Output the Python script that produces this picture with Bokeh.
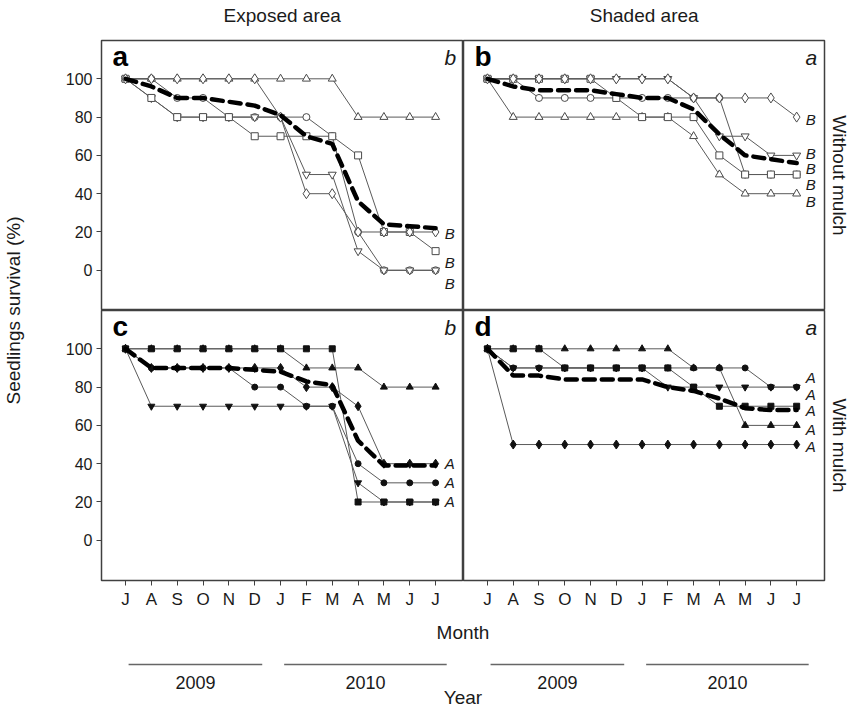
import math
from bokeh.plotting import figure
from bokeh.models import Range1d, FixedTicker, Label
from bokeh.layouts import row, column
from bokeh.embed import file_html
from bokeh.resources import INLINE

FONT = "Liberation Sans"

# ---------------- data ----------------
month_labels = ["J", "A", "S", "O", "N", "D", "J", "F", "M", "A", "M", "J", "J"]
months = list(range(13))

# (a) exposed area, without mulch (open markers)
a_circle   = [100, 100, 90, 90, 80, 80, 80, 80, 70, 20, 0, 0, 0]
a_down     = [100, 90, 80, 80, 80, 80, 80, 50, 50, 10, 0, 0, 0]
a_square   = [100, 90, 80, 80, 80, 70, 70, 70, 70, 60, 20, 20, 10]
a_diamond  = [100, 100, 100, 100, 100, 100, 80, 40, 40, 20, 20, 20, 20]
a_triangle = [100, 100, 100, 100, 100, 100, 100, 100, 100, 80, 80, 80, 80]
a_mean     = [100, 96, 90, 90, 88, 86, 81, 70, 66, 36, 24, 23, 22]

# (b) shaded area, without mulch (open markers)
b_circle   = [100, 100, 90, 90, 90, 90, 90, 90, 90, 90, 50, 50, 50]
b_down     = [100, 100, 100, 100, 100, 100, 100, 100, 90, 70, 70, 60, 60]
b_square   = [100, 100, 100, 100, 100, 90, 80, 80, 80, 60, 50, 50, 50]
b_diamond  = [100, 100, 100, 100, 100, 100, 100, 100, 90, 90, 90, 90, 80]
b_triangle = [100, 80, 80, 80, 80, 80, 80, 80, 70, 50, 40, 40, 40]
b_mean     = [100, 96, 94, 94, 94, 92, 90, 90, 84, 71, 60, 58, 56]

# (c) exposed area, with mulch (filled markers)
c_circle   = [100, 90, 90, 90, 90, 80, 80, 70, 70, 40, 30, 30, 30]
c_down     = [100, 70, 70, 70, 70, 70, 70, 70, 70, 30, 20, 20, 20]
c_square   = [100, 100, 100, 100, 100, 100, 100, 100, 100, 20, 20, 20, 20]
c_diamond  = [100, 90, 90, 90, 90, 90, 90, 80, 80, 70, 40, 40, 40]
c_triangle = [100, 100, 100, 100, 100, 100, 100, 90, 90, 90, 80, 80, 80]
c_mean     = [100, 90, 90, 90, 90, 89, 88, 83, 81, 52, 39, 39, 39]

# (d) shaded area, with mulch (filled markers)
d_circle   = [100, 90, 90, 90, 90, 90, 90, 90, 90, 90, 90, 80, 80]
d_down     = [100, 90, 90, 90, 90, 90, 90, 80, 80, 80, 80, 80, 80]
d_square   = [100, 100, 100, 90, 90, 90, 90, 90, 80, 70, 70, 70, 70]
d_diamond  = [100, 50, 50, 50, 50, 50, 50, 50, 50, 50, 50, 50, 50]
d_triangle = [100, 100, 100, 100, 100, 100, 100, 100, 90, 90, 60, 60, 60]
d_mean     = [100, 86, 86, 84, 84, 84, 84, 80, 78, 74, 69, 68, 68]

# significance letters at line ends
a_sig_y = [19, 4, -7];            a_sig = ["B", "B", "B"]
b_sig_y = [79, 61, 53, 45, 36];   b_sig = ["B", "B", "B", "B", "B"]
c_sig_y = [40, 30, 20];           c_sig = ["A", "A", "A"]
d_sig_y = [85, 76, 68, 58, 49];   d_sig = ["A", "A", "A", "A", "A"]

y_ticks = [0, 20, 40, 60, 80, 100]
columns_titles = ["Exposed area", "Shaded area"]
rows_titles = ["Without mulch", "With mulch"]
years = ["2009", "2010"]
year_start = [0.12, 6.15]
year_end = [5.3, 12.45]

# ---------------- style / layout ----------------
X_RANGE = (-0.93, 13.08)
Y_RANGE = (-21, 120)
LINE_COL = "#5a5a5a"
EDGE_COL = "#404040"
TXT_COL = "#1a1a1a"
PX_PER_MONTH = 25.8          # pixel width of one month inside a panel
COL_OFFSET = 14.03           # shift (in months) of the second column of panels
W_L, W_R, H_T, H_B = 30, 23, 38, 96
W_A, W_B = 433, 363          # canvas widths of the left / right panels


def strip(width, height, x_range, y_range):
    f = figure(width=width, height=height, x_range=x_range, y_range=y_range,
               output_backend="svg", toolbar_location=None,
               x_axis_location=None, y_axis_location=None,
               min_border=0, outline_line_color=None)
    f.grid.visible = False
    return f


def make_panel(series, mean, filled, letter, group, sig_y, sig, width, height,
               mb_left, mb_right, mb_top, mb_bottom, show_x, show_y):
    p = figure(width=width, height=height,
               x_range=Range1d(*X_RANGE), y_range=Range1d(*Y_RANGE),
               output_backend="svg", toolbar_location=None,
               x_axis_location="below" if show_x else None,
               y_axis_location="left" if show_y else None,
               min_border_left=mb_left, min_border_right=mb_right,
               min_border_top=mb_top, min_border_bottom=mb_bottom)
    p.grid.visible = False
    p.outline_line_color = EDGE_COL
    p.outline_line_width = 1.5
    if show_y:
        ax = p.yaxis[0]
        ax.ticker = FixedTicker(ticks=y_ticks)
        ax.major_tick_in = 0
        ax.major_tick_out = 5
        ax.minor_tick_line_color = None
        ax.axis_line_color = EDGE_COL
        ax.major_tick_line_color = EDGE_COL
        ax.major_label_text_font = FONT
        ax.major_label_text_font_size = "16px"
        ax.major_label_text_color = TXT_COL
        ax.major_label_standoff = 4
    if show_x:
        ax = p.xaxis[0]
        ax.ticker = FixedTicker(ticks=months)
        ax.major_label_overrides = {m: lab for m, lab in zip(months, month_labels)}
        ax.major_tick_in = 0
        ax.major_tick_out = 5
        ax.minor_tick_line_color = None
        ax.axis_line_color = EDGE_COL
        ax.major_tick_line_color = EDGE_COL
        ax.major_label_text_font = FONT
        ax.major_label_text_font_size = "17px"
        ax.major_label_text_color = TXT_COL
        ax.major_label_standoff = 4

    # drawing order (bottom -> top): circle, down, triangle, square, diamond
    order = [(series[0], "circle", 7), (series[1], "inverted_triangle", 8),
             (series[4], "triangle", 8), (series[2], "square", 7),
             (series[3], "diamond", 10)]
    for vals, mk, sz in order:
        p.line(months, vals, line_color=LINE_COL, line_width=1)
    for vals, mk, sz in order:
        if filled:
            p.scatter(months, vals, marker=mk, size=sz - 1,
                      fill_color="#111111", line_color="#111111", line_width=1)
        else:
            p.scatter(months, vals, marker=mk, size=sz,
                      fill_color="white", line_color="#4a4a4a", line_width=1)
    p.line(months, mean, line_color="black", line_width=4.5,
           line_dash="11 7", line_cap="round")

    p.add_layout(Label(x=-0.5, y=119.5, text=letter, text_font=FONT,
                       text_font_size="28px", text_font_style="bold",
                       text_color="black", text_align="left", text_baseline="top"))
    p.add_layout(Label(x=12.8, y=117, text=group, text_font=FONT,
                       text_font_size="21px", text_font_style="italic",
                       text_color=TXT_COL, text_align="right", text_baseline="top"))
    for yv, s in zip(sig_y, sig):
        p.add_layout(Label(x=12.35, y=yv, text=s, text_font=FONT,
                           text_font_size="15px", text_font_style="italic",
                           text_color=TXT_COL, text_align="left",
                           text_baseline="middle"))
    return p


pa = make_panel([a_circle, a_down, a_square, a_diamond, a_triangle], a_mean, False,
                "a", "b", a_sig_y, a_sig, W_A, 272, 71, 0, 2, 0, False, True)
pb = make_panel([b_circle, b_down, b_square, b_diamond, b_triangle], b_mean, False,
                "b", "a", b_sig_y, b_sig, W_B, 272, 0, 2, 2, 0, False, False)
pc = make_panel([c_circle, c_down, c_square, c_diamond, c_triangle], c_mean, True,
                "c", "b", c_sig_y, c_sig, W_A, 301, 71, 0, 0, 30, True, True)
pd = make_panel([d_circle, d_down, d_square, d_diamond, d_triangle], d_mean, True,
                "d", "a", d_sig_y, d_sig, W_B, 301, 0, 2, 0, 30, True, False)

# strips share the panels' month scale (left edge of the strips = canvas x W_L)
sx0 = X_RANGE[0] - 71 / PX_PER_MONTH
mid = (X_RANGE[0] + X_RANGE[1]) / 2

top = strip(W_A + W_B, H_T, Range1d(sx0, sx0 + (W_A + W_B) / PX_PER_MONTH), Range1d(H_T, 0))
for k, t in enumerate(columns_titles):
    top.add_layout(Label(x=mid + k * COL_OFFSET, y=15, text=t, text_font=FONT,
                         text_font_size="19px", text_color=TXT_COL,
                         text_align="center", text_baseline="middle"))

bottom = strip(W_A + W_B, H_B, Range1d(sx0, sx0 + (W_A + W_B) / PX_PER_MONTH), Range1d(H_B, 0))
bottom.add_layout(Label(x=X_RANGE[1], y=21, text="Month", text_font=FONT,
                        text_font_size="19px", text_color=TXT_COL,
                        text_align="center", text_baseline="middle"))
bottom.add_layout(Label(x=X_RANGE[1], y=86, text="Year", text_font=FONT,
                        text_font_size="19px", text_color=TXT_COL,
                        text_align="center", text_baseline="middle"))
for off in (0, COL_OFFSET):
    xs0 = [s + off for s in year_start]
    xs1 = [e + off for e in year_end]
    bottom.segment(x0=xs0, y0=[53] * 2, x1=xs1, y1=[53] * 2,
                   line_color="#666666", line_width=1.5)
    for ys, s, e in zip(years, xs0, xs1):
        bottom.add_layout(Label(x=(s + e) / 2, y=71, text=ys, text_font=FONT,
                                text_font_size="18px", text_color=TXT_COL,
                                text_align="center", text_baseline="middle"))

left = strip(W_L, 707, Range1d(0, W_L), Range1d(707, 0))
left.add_layout(Label(x=13, y=310, text="Seedlings survival (%)", angle=math.pi / 2,
                      text_font=FONT, text_font_size="19px", text_color=TXT_COL,
                      text_align="center", text_baseline="middle"))

right = strip(W_R, 707, Range1d(0, W_R), Range1d(707, 0))
for t, yc in zip(rows_titles, (175, 445)):
    right.add_layout(Label(x=13, y=yc, text=t, angle=-math.pi / 2,
                           text_font=FONT, text_font_size="19px", text_color=TXT_COL,
                           text_align="center", text_baseline="middle"))

layout = row(left, column(top, row(pa, pb), row(pc, pd), bottom), right)
open("out.html", "w").write(file_html(layout, INLINE))
